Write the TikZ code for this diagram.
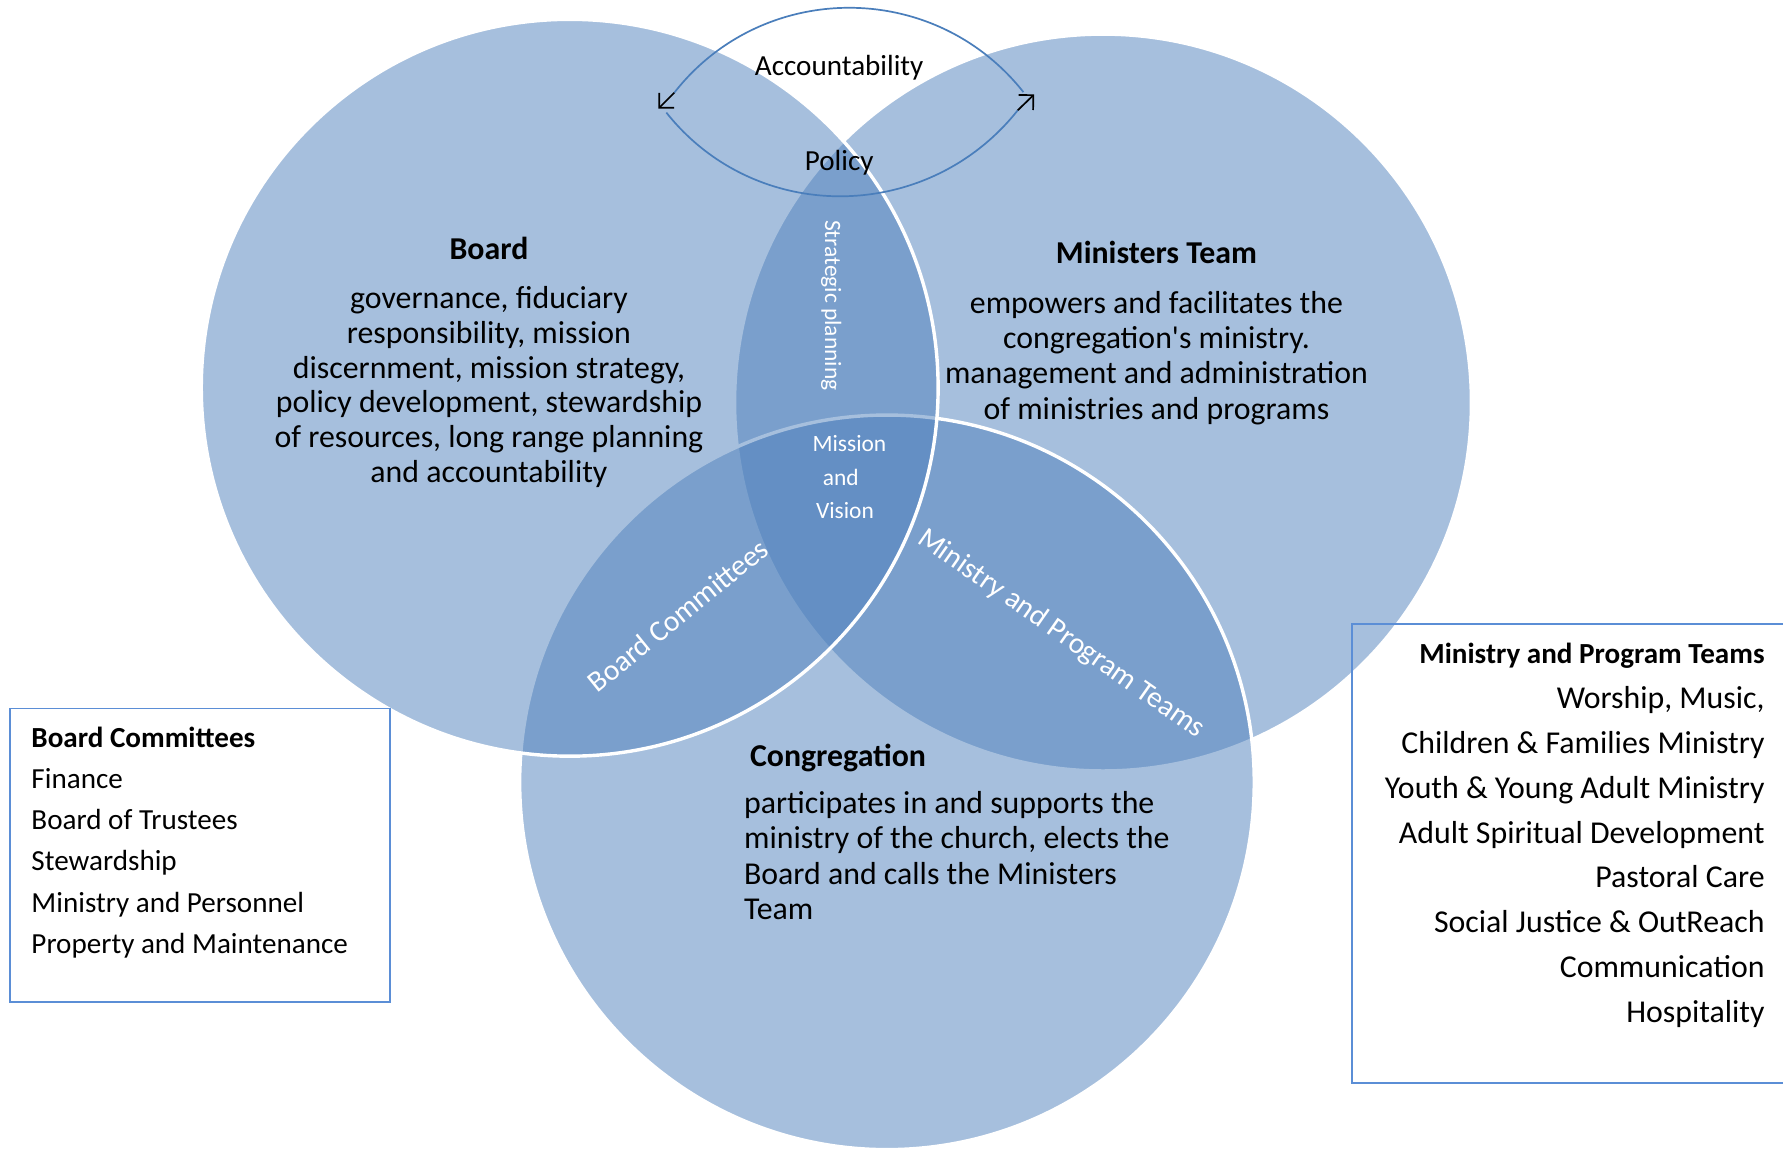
\documentclass[tikz,border=0pt]{standalone}
\usepackage{fontspec}
\setmainfont{Carlito}[Ligatures=TeXOff]
\usetikzlibrary{arrows.meta}

\definecolor{vennblue}{HTML}{4F81BD}
\definecolor{arcblue}{HTML}{4A7EBB}
\definecolor{boxblue}{HTML}{5B8ED6}

\tikzset{
  venn/.style={fill=vennblue, fill opacity=0.5, draw=white, line width=1.5pt},
  bodytext/.style={inner sep=0pt, text=black, font=\fontsize{14}{17}\selectfont},
  bodyhead/.style={inner sep=0pt, text=black, font=\fontsize{14}{17}\selectfont\bfseries},
  listtext/.style={inner sep=0pt, text=black, font=\fontsize{12.8}{15}\selectfont},
  listhead/.style={inner sep=0pt, text=black, font=\fontsize{12.8}{15}\selectfont\bfseries},
  arclabel/.style={inner sep=0pt, text=black, font=\fontsize{12.8}{15}\selectfont},
  corelabel/.style={inner sep=0pt, text=white, font=\fontsize{10.3}{12}\selectfont},
  lenslabel/.style={inner sep=0pt, text=white, font=\fontsize{13}{15}\selectfont},
  infobox/.style={draw=boxblue, line width=0.75pt},
  flow/.style={draw=arcblue, line width=0.75pt},
  flowtip/.style={draw=black, line width=0.75pt, -{Straight Barb[length=4.6pt, width=9.2pt]}},
}

\begin{document}
\begin{tikzpicture}[x=0.5pt, y=-0.5pt]
\useasboundingbox (0,0) rectangle (1568,1015);
\fill[white] (0,0) rectangle (1568,1015);

% the three circles of the Venn diagram
\coordinate (cMin) at (970,354);
\coordinate (cCong) at (780,688);
\coordinate (cBoard) at (501,341);
\path[venn] (cMin) circle[radius=324];
\path[venn] (cCong) circle[radius=323];
\path[venn] (cBoard) circle[radius=324];

\begin{scope}[shift={(0,2)}]
% Board
\node[bodyhead, anchor=base] (boardHead) at (430,225.8) {Board};
\foreach \t [count=\i] in {{governance, fiduciary},{responsibility, mission},{discernment, mission strategy,},{policy development, stewardship},{of resources, long range planning},{and accountability}}
  \node[bodytext, anchor=base] (boardLine\i) at (430,{269.6+30.5*(\i-1)}) {\t};

% Ministers Team
\node[bodyhead, anchor=base] (minHead) at (1017,230) {Ministers Team};
\foreach \t [count=\i] in {{empowers and facilitates the},{congregation's ministry.},{management and administration},{of ministries and programs}}
  \node[bodytext, anchor=base] (minLine\i) at (1017,{273.6+31*(\i-1)}) {\t};

% Congregation
\node[bodyhead, anchor=base] (congHead) at (737,672) {Congregation};
\foreach \t [count=\i] in {{participates in and supports the},{ministry of the church, elects the},{Board and calls the Ministers},{Team}}
  \node[bodytext, anchor=base west] (congLine\i) at (654,{713.6+31*(\i-1)}) {\t};

% accountability / policy labels
\node[arclabel, anchor=base] (acc) at (738,64) {Accountability};
\node[arclabel, anchor=base] (pol) at (738,148) {Policy};

% Board Committees list
\node[listhead, anchor=base west] (bcHead) at (27.3,655.2) {Board Committees};
\foreach \t [count=\i] in {Finance,Board of Trustees,Stewardship,Ministry and Personnel,Property and Maintenance}
  \node[listtext, anchor=base west] (bcItem\i) at (27.3,{655.2+36.25*\i}) {\t};

% Ministry and Program Teams list
\node[listhead, anchor=base east] (mptHead) at (1552.2,581.9) {Ministry and Program Teams};
\foreach \t [count=\i] in {{Worship, Music,},{Children \& Families Ministry},{Youth \& Young Adult Ministry},{Adult Spiritual Development},{Pastoral Care},{Social Justice \& OutReach},{Communication},{Hospitality}}
  \node[bodytext, anchor=base east] (mptItem\i) at (1552.2,{621.5+39.35*(\i-1)}) {\t};
\end{scope}

% overlap labels
\node[corelabel, rotate=-90] (strategic) at (731,268.5) {Strategic planning};
\node[corelabel, anchor=base] (mission1) at (747,397.4) {Mission};
\node[corelabel, anchor=base] (mission2) at (739.4,426.7) {and};
\node[corelabel, anchor=base] (mission3) at (743.1,456) {Vision};
\node[lenslabel, rotate=39] (bcLens) at (596,541) {Board Committees};
\node[lenslabel, rotate=-35] (mptLens) at (933,557.5) {Ministry and Program Teams};

% accountability / policy loop
\coordinate (upR) at (900,81);
\coordinate (upL) at (593,81.5);
\coordinate (tipL) at (579,95.5);
\coordinate (loL) at (586,99);
\coordinate (loR) at (895,97);
\coordinate (tipR) at (909.5,83);
\draw[flow] (upR) .. controls (820.9,-18.9) and (670,-17) .. (upL);
\draw[flow] (loL) .. controls (665,198.5) and (816,196.5) .. (loR);
\draw[flowtip] (upL) -- (tipL);
\draw[flowtip] (loR) -- (tipR);

% list frames
\draw[infobox] (8.8,623) rectangle (343,881);
\draw[infobox] (1188.7,548.8) rectangle (1600,952.7);
\end{tikzpicture}
\end{document}
